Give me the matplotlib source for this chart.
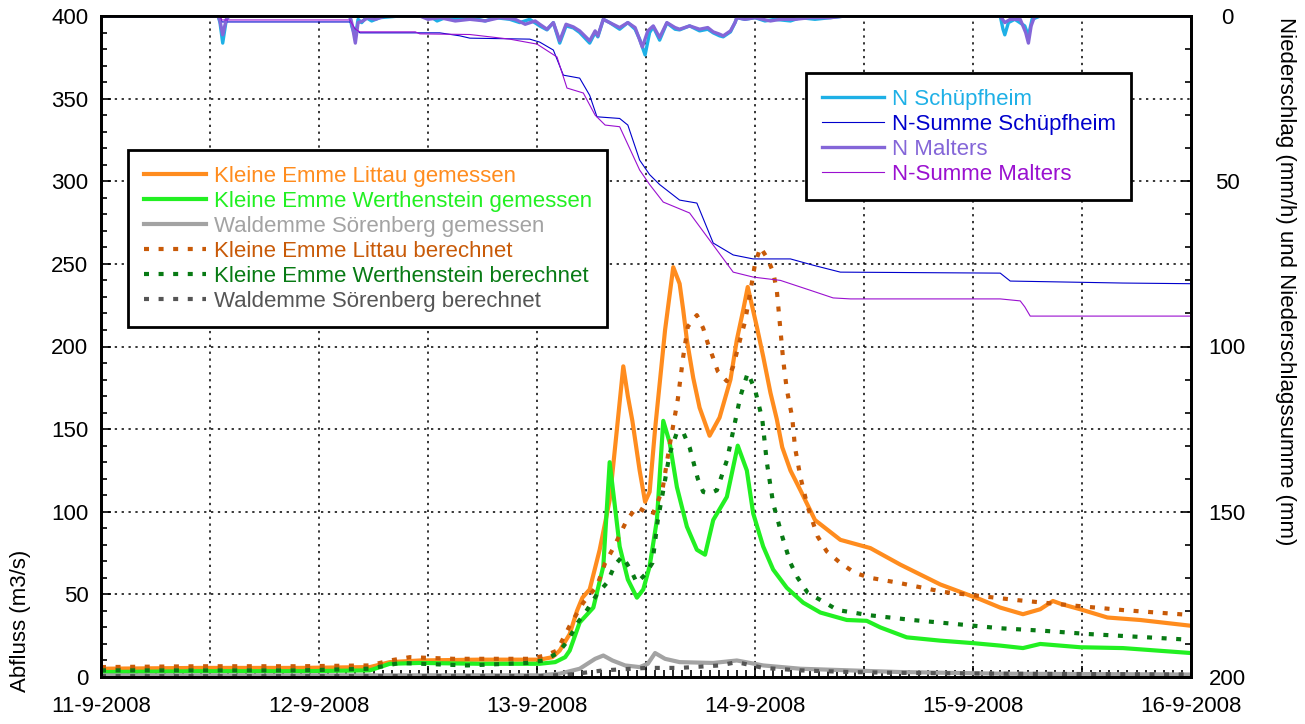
"""Abfluss und Niederschlag Kleine Emme, 11.-16.9.2008."""

import matplotlib

matplotlib.use("Agg")
import matplotlib.pyplot as plt
from matplotlib.ticker import MultipleLocator

plt.rcParams["font.family"] = ["Liberation Sans", "DejaVu Sans"]

# time in hours after 11-9-2008 00:00
t_littau = [0, 10.9, 21.9, 29.6, 31.8, 35.1, 41.7, 48.3, 49.7, 50.5, 51.6, 52.4, 53.0, 53.8, 54.9,
            56.0, 56.8, 57.5, 58.0, 58.5, 59.3, 59.9, 60.4, 61.0, 62.1, 63.0, 63.7, 64.1, 64.5, 65.2,
            65.9, 67.0, 68.1, 69.3, 70.0, 70.7, 71.2, 72.2, 72.9, 73.7, 74.4, 75.0, 75.9, 77.0, 78.6,
            81.4, 84.7, 88.0, 92.4, 96.8, 99.0, 101.5, 103.4, 104.8, 105.8, 107.8, 110.8, 114.4, 120]
q_littau = [5, 5.5, 5.5, 6, 9, 10, 10.5, 10.5, 12, 16, 26, 40, 48, 53, 77,
            107, 150, 188, 170, 155, 125, 106, 112, 150, 210, 248, 238, 222, 204, 181,
            163, 146, 157, 180, 204, 222, 236, 212, 194, 172, 156, 139, 125, 113, 95,
            83, 78, 68, 56, 47, 42, 38, 41, 46, 44, 41, 36, 34.5, 31]

t_werth = [0, 10.9, 21.9, 29.6, 31.8, 35.1, 41.7, 48.3, 50.0, 51.1, 51.6, 52.7, 54.2, 55.3, 56.0,
           57.1, 58.0, 59.0, 59.7, 60.4, 61.2, 61.9, 62.6, 63.4, 64.5, 65.6, 66.5, 67.4, 68.9, 70.1,
           71.1, 71.8, 72.9, 74.0, 75.5, 77.3, 79.2, 82.1, 84.3, 85.8, 88.7, 92.4, 96.0, 99.0, 101.5,
           103.4, 105.6, 107.8, 112.5, 120]
q_werth = [3, 3.5, 3.5, 4, 8, 8.5, 8, 8, 9, 12, 16, 33, 42, 67, 130,
           79, 59, 48, 53, 67, 95, 155, 142, 115, 91, 77, 74, 95, 109, 140,
           125, 99, 79, 65, 54, 45, 39, 34.5, 34, 30, 24, 22, 20.5, 19, 17.5,
           20, 19, 18, 17.5, 14.5]

t_soer = [0, 48.3, 50.5, 52.7, 54.4, 55.3, 56.3, 57.7, 59.3, 60.2, 61.0, 62.1, 63.7, 67.4, 70.0,
          72.9, 77.0, 82.5, 88.0, 99.0, 120]
q_soer = [1, 1, 2, 5, 11, 13, 10, 7, 6, 8, 14.5, 11, 9, 8.5, 10, 7, 5, 4, 3, 2, 1.5]

t_littau_b = [0, 10.9, 21.9, 29.6, 31.8, 34.0, 38.8, 47.2, 48.9, 50.2, 51.6, 53.1, 54.6, 55.5, 56.4,
              57.9, 59.0, 59.9, 60.7, 61.8, 62.6, 63.5, 64.1, 64.6, 65.6, 66.3, 66.8, 67.4, 67.9, 68.9,
              69.6, 70.4, 70.9, 71.7, 72.0, 72.6, 73.4, 74.0, 74.4, 74.8, 75.1, 75.5, 76.1, 76.4, 77.0,
              77.8, 78.9, 79.9, 81.4, 83.0, 84.7, 87.8, 92.7, 96.0, 100.9, 107.5, 112.5, 120]
q_littau_b = [6, 6.5, 6.5, 7, 10, 12, 11, 11, 13, 16, 31, 45, 55, 69, 78,
              95, 103, 100, 98, 113, 140, 168, 194, 212, 219, 211, 202, 193, 185, 179,
              188, 205, 215, 240, 250, 260, 253, 245, 234, 210, 192, 174, 157, 139, 121,
              103, 85, 76, 69, 63, 60, 57, 51.5, 49.5, 46.5, 43, 40.5, 37.5]

t_werth_b = [0, 21.9, 29.6, 32.9, 40.3, 46.9, 48.7, 50.3, 51.4, 52.5, 53.5, 54.6, 55.7, 56.6, 57.4,
             58.3, 59.0, 59.9, 60.7, 61.3, 61.9, 62.6, 63.4, 64.1, 64.8, 65.7, 66.3, 67.0, 67.8, 68.9,
             69.6, 70.4, 71.2, 72.0, 72.8, 73.3, 74.0, 75.0, 75.9, 76.7, 77.8, 79.7, 81.1, 82.8, 84.4,
             89.3, 94.2, 99.0, 103.7, 108.7, 115.2, 120]
q_werth_b = [4, 4, 5, 8.5, 7, 8.5, 10, 14.5, 22, 33, 40.5, 50, 57, 68, 73,
             65, 57, 62, 69, 95, 113, 135, 148, 148, 139, 120, 112, 111, 113, 131,
             149, 170, 184, 174, 156, 130, 105, 85, 69, 60, 51, 45, 40.5, 39, 37.5,
             34.5, 32, 29.5, 28, 26, 24, 22.5]

t_soer_b = [0, 48.3, 51.6, 55.3, 60.1, 63.7, 68.1, 70.0, 72.9, 77.0, 82.5, 88.0, 99.0, 120]
q_soer_b = [0.5, 0.5, 1.5, 4, 5.5, 5.5, 7, 9, 5.5, 4, 3, 2.5, 2, 1.5]

# precipitation (mm/h) and cumulative sums (mm)
t_n_sch = [0, 12.9, 13.1, 13.4, 13.8, 14.1, 27.4, 27.6, 28.0, 28.3, 28.7, 29.2, 29.8, 30.7, 32.9,
           36.2, 37.0, 37.9, 39.0, 40.6, 42.3, 43.4, 45.0, 46.1, 47.2, 48.3, 49.1, 49.8, 50.5, 51.2,
           52.0, 52.7, 53.8, 54.4, 54.7, 55.3, 56.0, 57.1, 58.0, 58.8, 59.3, 59.9, 60.4, 60.8, 61.5,
           62.3, 63.2, 63.7, 64.8, 65.9, 66.8, 67.4, 68.1, 68.5, 69.3, 69.8, 70.0, 70.9, 72.0, 73.1,
           74.2, 75.9, 77.0, 78.6, 80.3, 81.9, 99.0, 99.3, 99.5, 99.9, 100.6, 101.7, 102.1, 102.5,
           103.4, 120]
n_sch = [0, 0, 2, 8.2, 1, 0, 0, 3, 6.3, 1, 2, 0.5, 1.5, 0.5, 0,
         0, 1.5, 0.5, 1, 0.5, 1.5, 0.5, 1, 2, 1, 3, 4.2, 2, 8.2, 3,
         3.6, 5, 8.2, 5, 6.3, 1, 2, 4, 2, 4, 7, 11.8, 5, 3.3, 7.3,
         2.1, 4, 4.2, 3, 4.5, 4, 5.1, 6, 6.3, 4.8, 2, 0.5, 1, 0.5, 1.5,
         1, 1.5, 0.5, 1, 0.5, 0, 0, 4, 5.7, 2, 1, 3, 6, 1,
         0, 0]

t_n_mal = [0, 12.9, 13.1, 13.4, 13.8, 14.1, 27.4, 27.6, 28.0, 28.3, 28.8, 29.4, 30.2, 31.3, 35.1,
           36.0, 37.3, 39.0, 40.6, 42.3, 43.9, 45.6, 46.7, 47.8, 48.3, 49.1, 49.8, 50.5, 51.2, 52.0,
           52.7, 53.8, 54.4, 54.7, 55.3, 56.0, 57.1, 58.0, 58.8, 59.6, 60.2, 60.8, 61.5, 62.3, 63.2,
           63.7, 64.8, 65.9, 66.8, 67.4, 68.1, 68.5, 69.3, 69.8, 70.0, 70.9, 72.0, 73.7, 74.8, 76.4,
           78.1, 80.3, 81.9, 99.0, 99.5, 100.1, 101.2, 101.8, 102.1, 102.4, 102.8, 120]
n_mal = [0, 0, 1.5, 5.7, 1, 0, 0, 2, 8.2, 2, 1.5, 0.5, 1, 0, 0,
         1, 0.5, 1.5, 1, 1.5, 0.5, 1, 2.5, 1.5, 2.5, 4, 2, 7.5, 2.5, 3.3,
         4.5, 7.5, 4.5, 6, 1, 2, 3.5, 2, 3.5, 9.4, 4.5, 3, 6.5, 2, 3.5,
         4, 3, 4, 3.5, 4.8, 5.5, 6, 4.5, 2, 0.5, 1, 0.5, 1.5, 1, 1,
         0.5, 0.5, 0, 0, 2, 1, 1, 5, 8.2, 3, 0, 0]

t_sum_sch = [0, 13.1, 13.3, 27.4, 28.0, 28.5, 37.3, 39.5, 40.6, 47.2, 48.3, 49.8, 50.9, 52.7, 53.8,
             54.6, 57.1, 58.0, 59.3, 60.4, 61.5, 63.7, 65.6, 67.4, 69.6, 71.8, 75.9, 78.4, 81.4, 99.0,
             100.1, 112.5, 120]
sum_sch = [0, 0, 1.8, 1.8, 4, 5.1, 5.1, 6, 6.7, 7, 7.9, 10.3, 17.9, 18.8, 24,
           30.5, 31, 33, 43.6, 48, 51, 55.7, 56.6, 68.7, 72.3, 73.5, 73.5, 75.4, 77.5, 77.8,
           80.2, 80.8, 81]

t_sum_mal = [0, 13.1, 13.3, 27.4, 28.0, 28.5, 34.6, 35.1, 40.6, 45.0, 48.0, 50.2, 51.3, 53.1, 54.4,
             55.5, 57.1, 59.3, 60.4, 61.9, 64.8, 67.8, 69.6, 71.8, 74.8, 78.1, 80.6, 82.5, 99.0, 101.2,
             101.7, 102.3, 120]
sum_mal = [0, 0, 1.2, 1.2, 4, 4.8, 4.8, 5.4, 5.6, 7, 8.5, 12.4, 21.8, 23.3, 30,
           33, 33.5, 46.6, 51, 56.3, 59.6, 70.8, 77.5, 79, 80, 83, 85.3, 85.6, 85.6, 86.2,
           88, 90.8, 90.8]

day_labels = ["11-9-2008", "12-9-2008", "13-9-2008", "14-9-2008", "15-9-2008", "16-9-2008"]

FS = 16
DOT = (0, (1.2, 2.3))
GRID = (0, (1.5, 3))

fig = plt.figure(figsize=(13.05, 7.24), dpi=100)
ax = fig.add_axes([101 / 1305, 1 - 677 / 724, 1090 / 1305, 661 / 724])
ax2 = ax.twinx()

h_q = []
h_q += ax.plot(t_littau, q_littau, color="#ff8c1e", lw=3, label="Kleine Emme Littau gemessen")
h_q += ax.plot(t_werth, q_werth, color="#22f022", lw=3, label="Kleine Emme Werthenstein gemessen")
h_q += ax.plot(t_soer, q_soer, color="#a3a3a3", lw=3, label="Waldemme Sörenberg gemessen")
h_q += ax.plot(t_littau_b, q_littau_b, color="#c85a08", lw=3, ls=DOT,
               label="Kleine Emme Littau berechnet")
h_q += ax.plot(t_werth_b, q_werth_b, color="#087a14", lw=3, ls=DOT,
               label="Kleine Emme Werthenstein berechnet")
h_q += ax.plot(t_soer_b, q_soer_b, color="#555555", lw=3, ls=DOT,
               label="Waldemme Sörenberg berechnet")

h_n = []
h_n += ax2.plot(t_n_sch, n_sch, color="#1eb0e6", lw=2.4, label="N Schüpfheim")
h_n += ax2.plot(t_sum_sch, sum_sch, color="#0000cc", lw=0.8, label="N-Summe Schüpfheim")
h_n += ax2.plot(t_n_mal, n_mal, color="#8466d8", lw=2.4, label="N Malters")
h_n += ax2.plot(t_sum_mal, sum_mal, color="#9a10d0", lw=0.8, label="N-Summe Malters")

ax.set_xlim(0, 120)
ax.set_ylim(0, 400)
ax2.set_ylim(200, 0)

ax.set_xticks(range(0, 121, 12))
ax.set_xticklabels([lab for d in day_labels for lab in (d, "")][:-1])
ax.xaxis.set_minor_locator(MultipleLocator(1))
ax.set_yticks(range(0, 401, 50))
ax.yaxis.set_minor_locator(MultipleLocator(10))
ax2.set_yticks(range(0, 201, 50))
ax2.yaxis.set_minor_locator(MultipleLocator(10))

ax.grid(True, which="major", color="black", lw=1.1, ls=GRID)
ax.tick_params(which="both", direction="in", labelsize=FS, width=1.2)
ax.tick_params(axis="x", which="major", length=8, pad=14)
ax.tick_params(axis="x", which="minor", length=5)
ax.tick_params(axis="y", which="major", length=7, pad=9)
ax.tick_params(axis="y", which="minor", length=4)
ax2.tick_params(which="both", direction="in", labelsize=FS, width=1.2)
ax2.tick_params(which="major", length=7, pad=26)
ax2.tick_params(which="minor", length=4)
for lab in ax2.get_yticklabels():
    lab.set_horizontalalignment("center")

for a in (ax, ax2):
    for s in a.spines.values():
        s.set_linewidth(2)

fig.text(0.016, 1 - 621 / 724, "Abfluss (m3/s)", rotation=90, ha="center", va="center",
         fontsize=FS)
fig.text(0.985, 1 - 281 / 724, "Niederschlag (mm/h) und Niederschlagssumme (mm)",
         rotation=-90, ha="center", va="center", fontsize=FS)

leg_kw = dict(loc="upper left", bbox_transform=fig.transFigure, fancybox=False,
              edgecolor="black", framealpha=1, fontsize=FS, handlelength=2.8,
              handletextpad=0.35, labelspacing=0.18, borderpad=0.7, borderaxespad=0,
              labelcolor="linecolor")
leg1 = ax2.legend(handles=h_q, bbox_to_anchor=(128 / 1305, 1 - 150 / 724), **leg_kw)
leg1.get_frame().set_linewidth(2)
ax2.add_artist(leg1)
leg2 = ax2.legend(handles=h_n, bbox_to_anchor=(806 / 1305, 1 - 73 / 724), **leg_kw)
leg2.get_frame().set_linewidth(2)

fig.savefig("out.png", dpi=100)
